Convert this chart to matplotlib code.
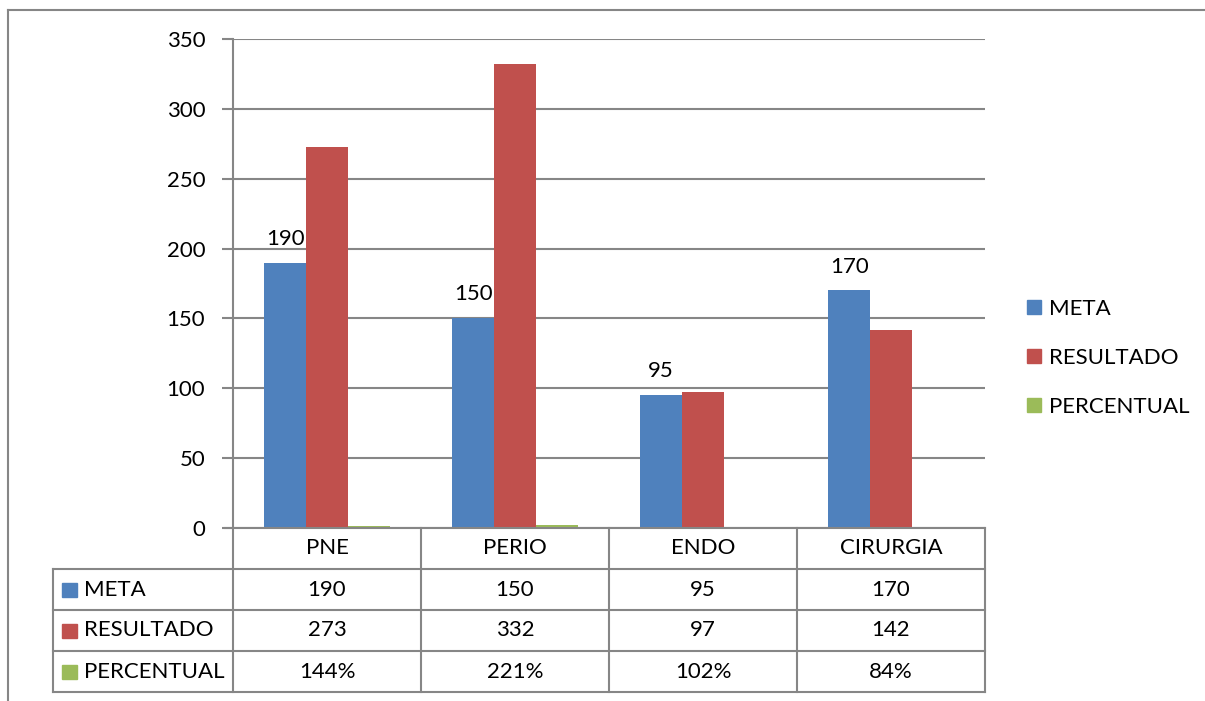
import matplotlib
matplotlib.use("Agg")
import matplotlib.pyplot as plt
import matplotlib.transforms as mtransforms
from matplotlib.lines import Line2D
from matplotlib.patches import Rectangle
import numpy as np

categories = ["PNE", "PERIO", "ENDO", "CIRURGIA"]
meta = [190, 150, 95, 170]
resultado = [273, 332, 97, 142]
percentual = [1.44, 2.21, 1.02, 0.84]
percentual_labels = ["144%", "221%", "102%", "84%"]
series_names = ["META", "RESULTADO", "PERCENTUAL"]
colors = ["#4F81BD", "#C0504D", "#9BBB59"]
yticks = [0, 50, 100, 150, 200, 250, 300, 350]

plt.rcParams['font.family'] = ['Lato', 'DejaVu Sans']
W, H = 1205, 701
fig = plt.figure(figsize=(W / 100, H / 100), dpi=100)
fig.patch.set_facecolor("white")

GRID = "#868686"
FS = 16

# outer frame (top and left)
fig.add_artist(Line2D([8 / W, 1.0], [1 - 10 / H, 1 - 10 / H], color=GRID, lw=1.5, transform=fig.transFigure))
fig.add_artist(Line2D([8 / W, 8 / W], [0, 1 - 10 / H], color=GRID, lw=1.5, transform=fig.transFigure))

left, right, top, bottom = 233, 985, 39, 528
ax = fig.add_axes([left / W, 1 - bottom / H, (right - left) / W, (bottom - top) / H])
ax.set_xlim(-0.5, 3.5)
ax.set_ylim(0, 350)
for s in ax.spines.values():
    s.set_visible(False)
ax.set_yticks(yticks)
ax.set_yticklabels([str(v) for v in yticks], fontsize=FS)
ax.tick_params(axis='y', length=8, width=1.5, color=GRID, pad=12)
ax.set_xticks([])
ax.grid(axis='y', color=GRID, lw=1.5)
ax.set_axisbelow(True)

bw = 1 / 4.5
x = np.arange(len(categories))
data = [meta, resultado, percentual]
for i, (vals, c, name) in enumerate(zip(data, colors, series_names)):
    ax.bar(x + (i - 1) * bw, vals, width=bw, color=c, label=name, zorder=3)

for xi, v in zip(x, meta):
    ax.text(xi - bw, v + 10, str(v), ha='center', va='bottom', fontsize=FS, zorder=4)

# axis line and table
rowh = 41 / (bottom - top)
blend = mtransforms.blended_transform_factory(ax.transData, ax.transAxes)
lw = 1.5
ax.add_line(Line2D([-0.5, -0.5], [-4 * rowh, 1.0], color=GRID, lw=lw, transform=blend, clip_on=False, zorder=5))
unit = (right - left) / 4
tab_left_data = -0.5 - (left - 53) / unit
ax.add_line(Line2D([-0.5 - 8 / unit, 3.5], [0, 0], color=GRID, lw=lw, transform=blend, clip_on=False, zorder=5))
for r in range(1, 5):
    ax.add_line(Line2D([tab_left_data, 3.5], [-r * rowh, -r * rowh], color=GRID, lw=lw, transform=blend, clip_on=False, zorder=5))
for b in [0.5, 1.5, 2.5, 3.5]:
    ax.add_line(Line2D([b, b], [0, -4 * rowh], color=GRID, lw=lw, transform=blend, clip_on=False, zorder=5))
ax.add_line(Line2D([tab_left_data, tab_left_data], [-rowh, -4 * rowh], color=GRID, lw=lw, transform=blend, clip_on=False, zorder=5))

for xi, cat in zip(x, categories):
    ax.text(xi, -0.5 * rowh, cat, ha='center', va='center', fontsize=FS, transform=blend, clip_on=False)

row_texts = [[str(v) for v in meta], [str(v) for v in resultado], percentual_labels]
for r, (name, c, texts) in enumerate(zip(series_names, colors, row_texts)):
    yc = -(r + 1.5) * rowh
    for xi, t in zip(x, texts):
        ax.text(xi, yc, t, ha='center', va='center', fontsize=FS, transform=blend, clip_on=False)
    sq_x = tab_left_data + 9 / unit
    sq_h = 14 / (bottom - top)
    ax.add_patch(Rectangle((sq_x, yc - sq_h / 2), 15 / unit, sq_h, color=c, transform=blend, clip_on=False))
    ax.text(tab_left_data + 31 / unit, yc, name, ha='left', va='center', fontsize=FS, transform=blend, clip_on=False)

leg = fig.legend(handles=[Rectangle((0, 0), 1, 1, color=c) for c in colors], labels=series_names,
                 loc='center left', bbox_to_anchor=(1007 / W, 1 - 358 / H), frameon=False,
                 fontsize=FS, handlelength=0.62, handleheight=0.62, handletextpad=0.35, labelspacing=1.3)

fig.savefig("out.png", dpi=100)
